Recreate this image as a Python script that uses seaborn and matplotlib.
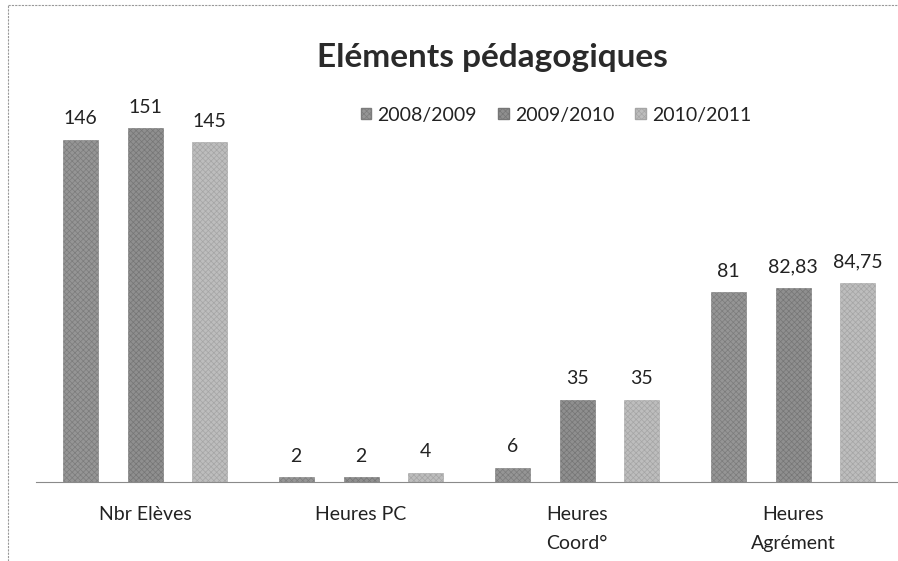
import seaborn as sns
import matplotlib.pyplot as plt
import pandas as pd
from matplotlib.lines import Line2D

categories = ["Nbr Elèves", "Heures PC", "Heures\nCoord°", "Heures\nAgrément"]
years = ["2008/2009", "2009/2010", "2010/2011"]
v_2008 = [146, 2, 6, 81]
v_2009 = [151, 2, 35, 82.83]
v_2010 = [145, 4, 35, 84.75]
colors = ["#959595", "#8f8f8f", "#bdbdbd"]
hatch_colors = ["#7c7c7c", "#767676", "#a5a5a5"]

rows = []
for yr, vals in zip(years, [v_2008, v_2009, v_2010]):
    for c, v in zip(categories, vals):
        rows.append({"cat": c, "annee": yr, "val": v})
df = pd.DataFrame(rows)

sns.set_style("white")
plt.rcParams["font.family"] = ["Lato", "DejaVu Sans"]
plt.rcParams["hatch.linewidth"] = 0.5

fig = plt.figure(figsize=(8.98, 5.61), dpi=100)
ax = fig.add_axes([36 / 898, 79 / 561, 862 / 898, 375 / 561])

sns.barplot(data=df, x="cat", y="val", hue="annee", palette=colors,
            width=0.9, gap=0.46, errorbar=None, ax=ax)

for cont, vals, hc in zip(ax.containers, [v_2008, v_2009, v_2010], hatch_colors):
    for bar in cont:
        bar.set_hatch("xxxxxx")
        bar.set_edgecolor(hc)
        bar.set_linewidth(0.4)
    labels = [f"{v:g}".replace(".", ",") for v in vals]
    ax.bar_label(cont, labels=labels, padding=9, fontsize=14, color="#222222")

ax.set_xlim(-0.505, 3.486)
ax.set_ylim(0, 160)
ax.set_xlabel("")
ax.set_ylabel("")
ax.set_yticks([])
for s in ["left", "right", "top"]:
    ax.spines[s].set_visible(False)
ax.spines["bottom"].set_color("#8a8a8a")
ax.spines["bottom"].set_linestyle((0, (3, 1)))
ax.tick_params(axis="x", length=0, pad=17, labelsize=14, labelcolor="#222222")
for lbl in ax.get_xticklabels():
    lbl.set_linespacing(1.85)
    lbl.set_verticalalignment("top")

h, l = ax.get_legend_handles_labels()
ax.get_legend().remove()
for hh, hc in zip(h, hatch_colors):
    hh.set_hatch("xxxxxx")
    hh.set_edgecolor(hc)
fig.legend(h, l, loc="center", bbox_to_anchor=(556 / 898, 1 - 115 / 561),
           ncol=3, frameon=False, fontsize=14, handlelength=0.55, handleheight=0.55,
           handletextpad=0.3, columnspacing=1.1, labelcolor="#222222")

fig.text(492 / 898, 1 - 67 / 561, "Eléments pédagogiques", ha="center",
         va="baseline", fontsize=24, fontweight="bold", color="#2a2a2a")

# bordure du graphique
fig.add_artist(Line2D([8 / 898, 8 / 898], [0, 1 - 5 / 561], color="#999999",
                      lw=0.8, ls=(0, (2, 1))))
fig.add_artist(Line2D([8 / 898, 1], [1 - 5 / 561, 1 - 5 / 561], color="#999999",
                      lw=0.8, ls=(0, (2, 1))))

fig.savefig("out.png", dpi=100)
